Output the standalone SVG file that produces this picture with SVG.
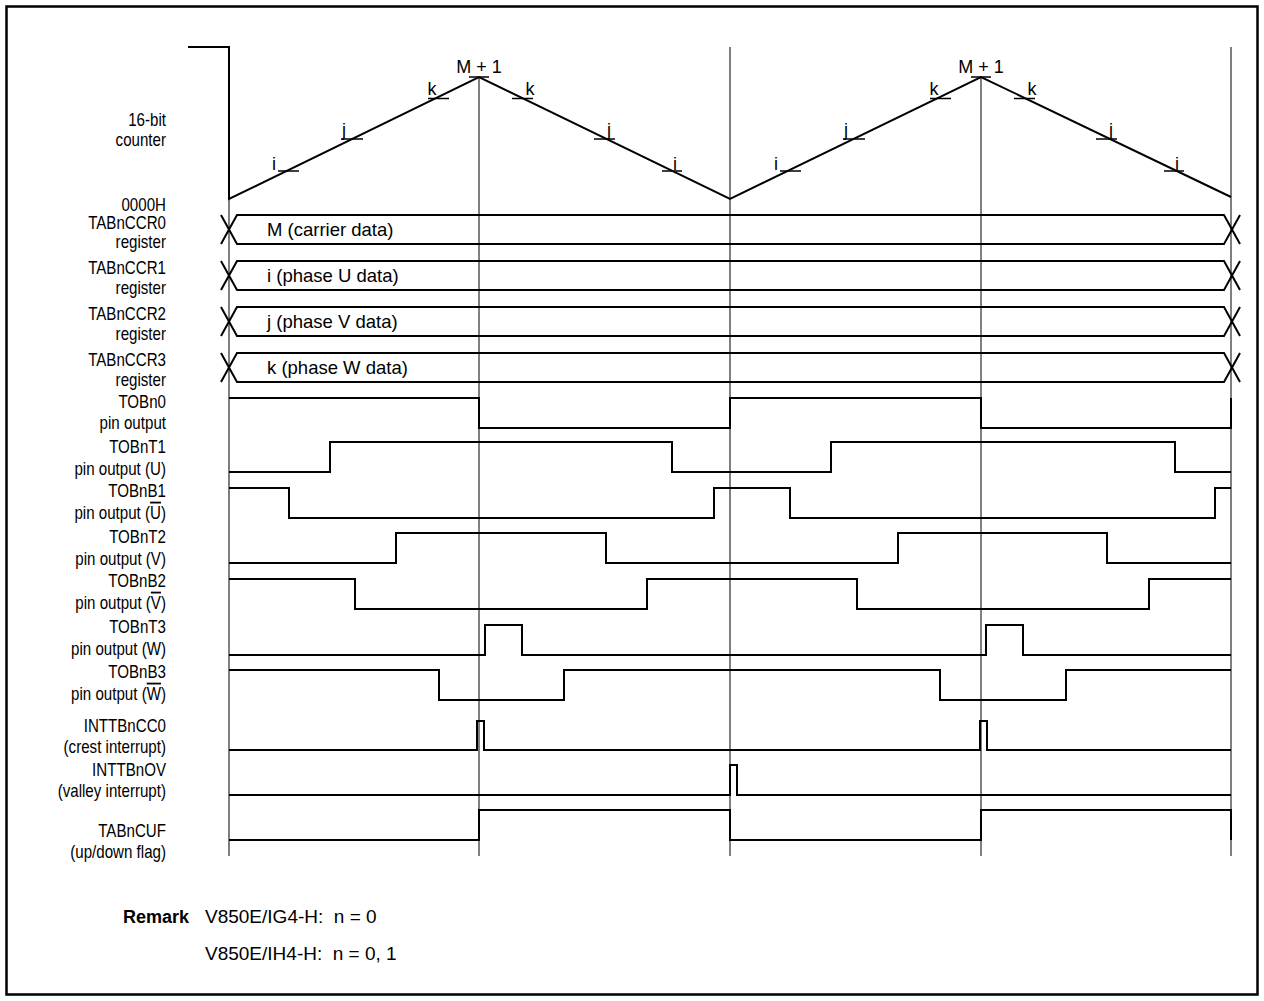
<svg xmlns="http://www.w3.org/2000/svg" width="1264" height="1001" viewBox="0 0 1264 1001">
<style>
text{font-family:"Liberation Sans",Arial,sans-serif;font-size:18px;fill:#000}
.lbl{text-anchor:end}
.bt{font-size:18.5px}
.rm{font-size:19px}
.sig{fill:none;stroke:#000;stroke-width:2;stroke-linejoin:miter}
.grid{fill:none;stroke:#000;stroke-width:1}
.tick{stroke:#000;stroke-width:1.5}
.ov{text-decoration:overline}
</style>
<defs>
<path id="bus" class="sig" d="M221,0 L237,29 L1224,29 L1240,0 M221,29 L237,0 L1224,0 L1240,29"/>
</defs>
<rect x="6.5" y="6.5" width="1251" height="988" fill="none" stroke="#000" stroke-width="2.5"/>

<g id="connectors">
<line class="grid" x1="229" y1="199" x2="229" y2="856"/>
<line class="grid" x1="479" y1="77" x2="479" y2="856"/>
<line class="grid" x1="730" y1="47" x2="730" y2="856"/>
<line class="grid" x1="981" y1="77" x2="981" y2="856"/>
<line class="grid" x1="1231" y1="47" x2="1231" y2="856"/>
</g>

<g id="labels" transform="translate(166,0) scale(0.84,1) translate(-166,0)">
<text class="lbl" x="166" y="126">16-bit</text>
<text class="lbl" x="166" y="146">counter</text>
<text class="lbl" x="166" y="211">0000H</text>
<text class="lbl" x="166" y="229">TABnCCR0</text><text class="lbl" x="166" y="248">register</text>
<text class="lbl" x="166" y="274">TABnCCR1</text><text class="lbl" x="166" y="294">register</text>
<text class="lbl" x="166" y="320">TABnCCR2</text><text class="lbl" x="166" y="340">register</text>
<text class="lbl" x="166" y="366">TABnCCR3</text><text class="lbl" x="166" y="386">register</text>
<text class="lbl" x="166" y="408">TOBn0</text><text class="lbl" x="166" y="429">pin output</text>
<text class="lbl" x="166" y="453">TOBnT1</text><text class="lbl" x="166" y="475">pin output (U)</text>
<text class="lbl" x="166" y="497">TOBnB1</text><text class="lbl" x="166" y="519">pin output (<tspan class="ov">U</tspan>)</text>
<text class="lbl" x="166" y="543">TOBnT2</text><text class="lbl" x="166" y="565">pin output (V)</text>
<text class="lbl" x="166" y="587">TOBnB2</text><text class="lbl" x="166" y="609">pin output (<tspan class="ov">V</tspan>)</text>
<text class="lbl" x="166" y="633">TOBnT3</text><text class="lbl" x="166" y="655">pin output (W)</text>
<text class="lbl" x="166" y="678">TOBnB3</text><text class="lbl" x="166" y="700">pin output (<tspan class="ov">W</tspan>)</text>
<text class="lbl" x="166" y="732">INTTBnCC0</text><text class="lbl" x="166" y="753">(crest interrupt)</text>
<text class="lbl" x="166" y="776">INTTBnOV</text><text class="lbl" x="166" y="797">(valley interrupt)</text>
<text class="lbl" x="166" y="837">TABnCUF</text><text class="lbl" x="166" y="858">(up/down flag)</text>
</g>

<g id="counter">
<path class="sig" d="M188,47 L229,47 L229,199 L479,77 L730,199 L981,77 L1231,197"/>
<g class="tick">
<line x1="278" y1="171" x2="299" y2="171"/><line x1="341" y1="139" x2="363" y2="139"/><line x1="428" y1="98.5" x2="449" y2="98.5"/><line x1="469" y1="77" x2="489" y2="77"/>
<line x1="512" y1="98.5" x2="533" y2="98.5"/><line x1="594" y1="139" x2="615" y2="139"/><line x1="662" y1="171" x2="682" y2="171"/>
<line x1="780" y1="171" x2="801" y2="171"/><line x1="843" y1="139" x2="865" y2="139"/><line x1="930" y1="98.5" x2="951" y2="98.5"/><line x1="971" y1="77" x2="991" y2="77"/>
<line x1="1014" y1="98.5" x2="1035" y2="98.5"/><line x1="1096" y1="139" x2="1117" y2="139"/><line x1="1164" y1="171" x2="1184" y2="171"/>
</g>
<g text-anchor="middle">
<text x="274" y="170">i</text><text x="344" y="136">j</text><text x="432" y="95">k</text><text x="479" y="73">M + 1</text>
<text x="530" y="95">k</text><text x="609" y="136">j</text><text x="675" y="170">i</text>
<text x="776" y="170">i</text><text x="846" y="136">j</text><text x="934" y="95">k</text><text x="981" y="73">M + 1</text>
<text x="1032" y="95">k</text><text x="1111" y="136">j</text><text x="1177" y="170">i</text>
</g>
</g>

<g id="TABnCCR0"><use href="#bus" y="215"/><text class="bt" x="267" y="236">M (carrier data)</text></g>
<g id="TABnCCR1"><use href="#bus" y="261"/><text class="bt" x="267" y="282">i (phase U data)</text></g>
<g id="TABnCCR2"><use href="#bus" y="307"/><text class="bt" x="267" y="328">j (phase V data)</text></g>
<g id="TABnCCR3"><use href="#bus" y="353"/><text class="bt" x="267" y="374">k (phase W data)</text></g>

<g id="TOBn0"><path class="sig" d="M229,398 H479 V428 H730 V398 H981 V428 H1231 V398"/></g>
<g id="TOBnT1"><path class="sig" d="M229,472 H330 V442 H672 V472 H831 V442 H1175 V472 H1231"/></g>
<g id="TOBnB1"><path class="sig" d="M229,488 H289 V518 H714 V488 H790 V518 H1215 V488 H1231"/></g>
<g id="TOBnT2"><path class="sig" d="M229,563 H396 V533 H606 V563 H898 V533 H1107 V563 H1231"/></g>
<g id="TOBnB2"><path class="sig" d="M229,579 H355 V609 H647 V579 H857 V609 H1149 V579 H1231"/></g>
<g id="TOBnT3"><path class="sig" d="M229,655 H485 V625 H522 V655 H986 V625 H1023 V655 H1231"/></g>
<g id="TOBnB3"><path class="sig" d="M229,670 H439 V700 H564 V670 H940 V700 H1066 V670 H1231"/></g>
<g id="INTTBnCC0"><path class="sig" d="M229,750 H477 V721 H484 V750 H980 V721 H987 V750 H1231"/></g>
<g id="INTTBnOV"><path class="sig" d="M229,795 H730 V765 H737 V795 H1231"/></g>
<g id="TABnCUF"><path class="sig" d="M229,840 H479 V810 H730 V840 H981 V810 H1231 V840"/></g>

<g id="remark">
<text x="123" y="923" font-weight="bold" font-size="18.5">Remark</text>
<text class="rm" x="205" y="923" xml:space="preserve">V850E/IG4-H:  n = 0</text>
<text class="rm" x="205" y="960" xml:space="preserve">V850E/IH4-H:  n = 0, 1</text>
</g>
</svg>
